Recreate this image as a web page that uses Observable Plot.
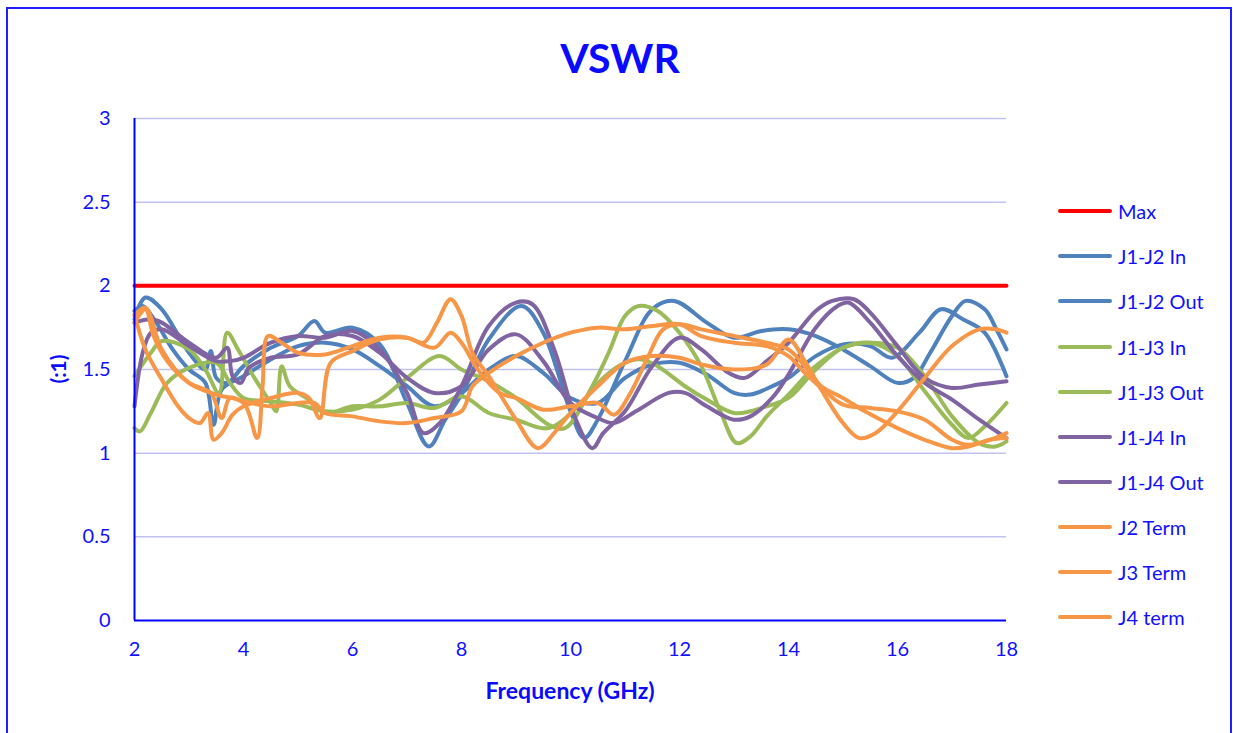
<!DOCTYPE html>
<html>
<head>
<meta charset="utf-8">
<script src="https://cdn.jsdelivr.net/npm/d3@7"></script>
<script src="https://cdn.jsdelivr.net/npm/@observablehq/plot@0.6"></script>
<style>
  html, body { margin: 0; padding: 0; background: #fff; overflow: hidden; }
  body { width: 1233px; height: 733px; position: relative; font-family: Lato, "Liberation Sans", sans-serif; color: blue; }
  #frame { position: absolute; left: 6px; top: 7px; width: 1226px; height: 760px; border: 2px solid #1f1fff; box-sizing: border-box; }
  #chart { position: absolute; left: 0; top: 0; }
  #title { position: absolute; left: 0; width: 1240px; top: 33px; text-align: center; font-weight: 700; font-size: 41px; color: #0a0aff; }
  #ylab { position: absolute; left: 57px; top: 369px; transform: translate(-50%, -50%) rotate(-90deg); font-weight: 700; font-size: 21px; white-space: nowrap; color: #0a0aff; }
  #xlab { position: absolute; left: 570px; top: 690px; transform: translate(-50%, -50%); font-weight: 700; font-size: 23px; white-space: nowrap; color: #0a0aff; }
  .lg { position: absolute; left: 1058px; height: 24px; display: flex; align-items: center; font-size: 20px; color: #1010ff; white-space: nowrap; }
  .lg .sw { width: 54px; height: 4px; border-radius: 2px; margin-right: 6px; }
</style>
</head>
<body>
<div id="frame"></div>
<div id="chart"></div>
<div id="title">VSWR</div>
<div id="ylab">(:1)</div>
<div id="xlab">Frequency (GHz)</div>
<div id="legend"></div>
<script>
// ---- data ----
const xTicks = [2, 4, 6, 8, 10, 12, 14, 16, 18];
const yTicks = [0, 0.5, 1, 1.5, 2, 2.5, 3];
const seriesNames = ["Max", "J1-J2 In", "J1-J2 Out", "J1-J3 In", "J1-J3 Out", "J1-J4 In", "J1-J4 Out", "J2 Term", "J3 Term", "J4 term"];
const seriesColors = ["#FF0000", "#4F81BD", "#4F81BD", "#9BBB59", "#9BBB59", "#8064A2", "#8064A2", "#F79646", "#F79646", "#F79646"];

const maxLine = [[2, 2], [18, 2]];

const j1j2In = [[2,1.80],[2.2,1.93],[2.5,1.86],[3,1.60],[3.3,1.50],[3.4,1.61],[3.5,1.45],[3.7,1.42],[4,1.52],[4.5,1.63],[5,1.70],[5.3,1.79],[5.5,1.72],[6,1.75],[6.5,1.65],[7,1.30],[7.4,1.04],[7.7,1.20],[8,1.35],[8.5,1.68],[9.1,1.88],[9.5,1.72],[10,1.25],[10.25,1.09],[10.5,1.20],[11,1.55],[11.5,1.86],[11.9,1.91],[12.5,1.78],[13,1.69],[13.5,1.73],[14,1.74],[14.5,1.70],[15,1.62],[15.5,1.52],[16,1.42],[16.3,1.45],[16.6,1.60],[17,1.82],[17.25,1.91],[17.6,1.86],[17.8,1.75],[18,1.62]];

const j1j2Out = [[2,1.85],[2.15,1.88],[2.4,1.78],[2.7,1.62],[3,1.50],[3.3,1.42],[3.45,1.17],[3.6,1.38],[4,1.46],[4.5,1.56],[5,1.64],[5.5,1.66],[6,1.62],[6.5,1.52],[7,1.40],[7.5,1.28],[8,1.36],[8.5,1.50],[9,1.58],[9.5,1.48],[10,1.33],[10.5,1.30],[11,1.45],[11.5,1.53],[12,1.54],[12.5,1.47],[13,1.36],[13.3,1.35],[13.7,1.40],[14,1.45],[14.5,1.58],[15,1.65],[15.5,1.64],[15.9,1.57],[16.4,1.72],[16.8,1.86],[17.2,1.80],[17.6,1.72],[18,1.46]];

const j1j3In = [[2,1.15],[2.1,1.13],[2.3,1.24],[2.6,1.42],[3,1.51],[3.5,1.54],[3.75,1.42],[4,1.33],[4.5,1.31],[5,1.29],[5.5,1.25],[6,1.26],[6.5,1.32],[7,1.45],[7.6,1.58],[8,1.50],[8.5,1.43],[9,1.33],[9.6,1.17],[9.9,1.15],[10.4,1.40],[10.7,1.60],[11,1.82],[11.25,1.88],[11.6,1.85],[12,1.72],[12.4,1.52],[12.75,1.25],[13.05,1.06],[13.3,1.10],[13.6,1.22],[14,1.35],[14.5,1.52],[15,1.63],[15.5,1.66],[16,1.58],[16.5,1.37],[17,1.17],[17.3,1.09],[17.6,1.16],[18,1.30]];

const j1j3Out = [[2,1.46],[2.3,1.60],[2.5,1.67],[3,1.62],[3.3,1.50],[3.55,1.36],[3.7,1.72],[3.9,1.62],[4.2,1.45],[4.5,1.30],[4.6,1.25],[4.7,1.52],[4.85,1.40],[5.2,1.32],[5.5,1.24],[6,1.28],[6.5,1.28],[7,1.30],[7.5,1.27],[8,1.34],[8.5,1.24],[9,1.20],[9.6,1.15],[10.2,1.30],[10.6,1.45],[11,1.54],[11.3,1.56],[11.6,1.52],[12.1,1.40],[12.5,1.32],[13,1.24],[13.3,1.25],[13.6,1.28],[14,1.33],[14.5,1.50],[15,1.63],[15.5,1.66],[16,1.63],[16.5,1.46],[17,1.22],[17.5,1.06],[17.8,1.04],[18,1.07]];

const j1j4In = [[2,1.28],[2.15,1.60],[2.3,1.72],[2.5,1.74],[3,1.64],[3.5,1.55],[3.75,1.55],[4,1.57],[4.5,1.66],[5,1.70],[5.5,1.69],[6,1.73],[6.5,1.62],[7,1.36],[7.3,1.12],[7.6,1.18],[8,1.40],[8.5,1.76],[9,1.90],[9.3,1.89],[9.7,1.62],[10.1,1.20],[10.4,1.03],[10.6,1.12],[11,1.25],[11.5,1.52],[12,1.69],[12.4,1.62],[12.9,1.48],[13.2,1.45],[13.6,1.55],[14,1.66],[14.5,1.85],[14.8,1.91],[15.2,1.92],[15.5,1.84],[16,1.64],[16.5,1.45],[17,1.39],[17.5,1.41],[18,1.43]];

const j1j4Out = [[2,1.78],[2.3,1.80],[2.5,1.78],[3,1.66],[3.5,1.57],[3.7,1.63],[3.8,1.46],[3.95,1.42],[4.1,1.51],[4.5,1.57],[5,1.59],[5.5,1.70],[6,1.70],[6.5,1.60],[7,1.45],[7.5,1.36],[8,1.40],[8.5,1.62],[9,1.71],[9.5,1.55],[10,1.30],[10.5,1.21],[10.8,1.18],[11.2,1.25],[11.8,1.36],[12.1,1.36],[12.5,1.28],[13,1.20],[13.3,1.22],[13.7,1.33],[14,1.47],[14.5,1.75],[14.9,1.88],[15.1,1.90],[15.5,1.78],[16,1.58],[16.5,1.42],[17,1.32],[17.5,1.20],[18,1.09]];

const j2Term = [[2,1.83],[2.2,1.62],[2.5,1.44],[2.8,1.28],[3,1.21],[3.2,1.18],[3.35,1.24],[3.45,1.08],[3.6,1.12],[3.8,1.23],[4,1.28],[4.5,1.33],[5,1.36],[5.2,1.33],[5.4,1.21],[5.6,1.54],[6,1.61],[6.5,1.68],[7,1.69],[7.3,1.66],[7.55,1.78],[7.8,1.92],[8,1.82],[8.2,1.60],[8.5,1.46],[9,1.20],[9.4,1.03],[9.7,1.12],[10,1.24],[10.5,1.40],[11,1.54],[11.5,1.58],[12,1.57],[12.4,1.53],[13,1.50],[13.6,1.53],[14,1.68],[14.3,1.55],[14.6,1.38],[15,1.18],[15.3,1.09],[15.6,1.12],[16,1.25],[16.5,1.45],[17,1.64],[17.5,1.74],[17.8,1.74],[18,1.72]];

const j3Term = [[2,1.82],[2.2,1.87],[2.5,1.62],[3,1.42],[3.5,1.35],[4,1.30],[4.25,1.09],[4.35,1.40],[4.45,1.70],[4.7,1.66],[5,1.60],[5.5,1.59],[6,1.64],[6.5,1.69],[7,1.69],[7.5,1.63],[7.8,1.72],[8,1.66],[8.3,1.50],[8.7,1.36],[9,1.33],[9.5,1.26],[10,1.28],[10.5,1.30],[10.8,1.23],[11.1,1.36],[11.4,1.56],[11.7,1.74],[12,1.77],[12.4,1.74],[13,1.70],[13.6,1.66],[14,1.62],[14.3,1.52],[14.6,1.40],[15,1.33],[15.4,1.25],[16,1.15],[16.5,1.08],[17,1.03],[17.3,1.04],[17.7,1.08],[18,1.09]];

const j4Term = [[2,1.78],[2.2,1.86],[2.35,1.70],[2.6,1.55],[3,1.42],[3.4,1.36],[3.6,1.21],[3.75,1.33],[4,1.31],[4.5,1.28],[5,1.30],[5.3,1.30],[5.5,1.24],[6,1.22],[6.5,1.19],[7,1.18],[7.5,1.21],[8,1.25],[8.2,1.40],[8.5,1.48],[9,1.58],[9.5,1.66],[10,1.72],[10.5,1.75],[11,1.74],[11.5,1.76],[12,1.77],[12.4,1.70],[13,1.66],[13.6,1.64],[14,1.58],[14.3,1.48],[14.6,1.39],[15,1.29],[15.5,1.27],[16,1.25],[16.5,1.20],[17,1.08],[17.3,1.05],[17.7,1.08],[18,1.12]];

const seriesData = [maxLine, j1j2In, j1j2Out, j1j3In, j1j3Out, j1j4In, j1j4Out, j2Term, j3Term, j4Term];

// ---- chart ----
const lineMarks = seriesData.map((pts, i) =>
  Plot.line(pts, {x: d => d[0], y: d => d[1], stroke: seriesColors[i], strokeWidth: 4,
    curve: i === 0 ? "linear" : "catmull-rom", strokeLinejoin: "round", strokeLinecap: "round"}));

const chart = Plot.plot({
  width: 1233,
  height: 733,
  marginLeft: 134,
  marginRight: 227,
  marginTop: 118,
  marginBottom: 113,
  style: {fontFamily: "Lato, 'Liberation Sans', sans-serif", fontSize: "20px", color: "#1010ff", background: "transparent", overflow: "visible"},
  x: {domain: [2, 18]},
  y: {domain: [0, 3]},
  marks: [
    Plot.ruleY(yTicks.filter(v => v > 0), {stroke: "#c2c2f2", strokeWidth: 1.5}),
    ...lineMarks,
    Plot.ruleX([2], {y1: 0, y2: 3, stroke: "#0000ff", strokeWidth: 2}),
    Plot.ruleY([0], {stroke: "#0000ff", strokeWidth: 2}),
    Plot.axisX({ticks: xTicks, tickSize: 0, tickPadding: 21, tickFormat: d => String(d), label: null, fontSize: 20}),
    Plot.axisY({ticks: yTicks, tickSize: 0, tickPadding: 24, tickFormat: d => String(d), label: null, fontSize: 20})
  ]
});
document.getElementById("chart").appendChild(chart);

// ---- legend ----
const legendY = [211, 256, 301, 347, 392, 437, 482, 527, 572, 617];
const lg = document.getElementById("legend");
seriesNames.forEach((name, i) => {
  const row = document.createElement("div");
  row.className = "lg";
  row.style.top = (legendY[i] - 12) + "px";
  const sw = document.createElement("div");
  sw.className = "sw";
  sw.style.background = seriesColors[i];
  const t = document.createElement("span");
  t.textContent = name;
  row.appendChild(sw);
  row.appendChild(t);
  lg.appendChild(row);
});
</script>
</body>
</html>
